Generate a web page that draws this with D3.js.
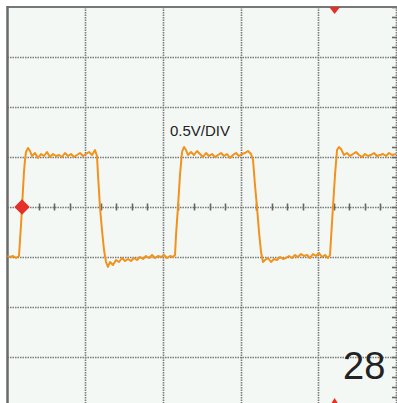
<!DOCTYPE html>
<html>
<head>
<meta charset="utf-8">
<script src="https://cdn.jsdelivr.net/npm/d3@7"></script>
<style>
  body { margin: 0; background: #fff; }
  svg { display: block; }
</style>
</head>
<body>
<div id="scope"></div>
<script>
// Screen: 5 time divisions (10 units each), 8 vertical divisions of 0.5 V
const width = 397, height = 403;
const plot = {left: 7.5, right: 396, top: 7, bottom: 407};

// Trace: time (units, 10 per div) and volts
const time = [0, 0.32, 0.71, 1.09, 1.48, 1.61, 1.74, 1.87, 1.99, 2.12, 2.25, 2.38, 2.64, 2.90, 3.15, 3.54, 3.93, 4.31, 4.70, 5.08,
  5.47, 5.86, 6.24, 6.63, 7.01, 7.40, 7.79, 8.17, 8.56, 8.94, 9.33, 9.72, 10.10, 10.49, 10.88, 11.26, 11.52, 11.65, 11.90, 12.16,
  12.42, 12.68, 12.93, 13.19, 13.58, 13.96, 14.35, 14.74, 15.12, 15.51, 15.89, 16.28, 16.67, 17.05, 17.44, 17.82, 18.21, 18.60, 18.98, 19.37,
  19.76, 20.14, 20.53, 20.91, 21.30, 21.56, 21.69, 21.94, 22.20, 22.46, 22.72, 22.97, 23.23, 23.62, 24.00, 24.39, 24.77, 25.16, 25.55, 25.93,
  26.32, 26.71, 27.09, 27.48, 27.86, 28.25, 28.64, 29.02, 29.41, 29.79, 30.18, 30.57, 30.95, 31.34, 31.60, 31.85, 32.11, 32.37, 32.63, 32.88,
  33.14, 33.53, 33.91, 34.30, 34.68, 35.07, 35.46, 35.84, 36.23, 36.62, 37.00, 37.39, 37.77, 38.16, 38.55, 38.93, 39.32, 39.70, 40.09, 40.48,
  40.86, 41.25, 41.51, 41.64, 41.89, 42.15, 42.41, 42.66, 42.92, 43.31, 43.69, 44.08, 44.47, 44.85, 45.24, 45.62, 46.01, 46.40, 46.78, 47.17,
  47.55, 47.94, 48.33, 48.71, 49.10, 49.49, 50.00];
const volts = [-0.49, -0.50, -0.49, -0.51, -0.49, -0.33, -0.18, 0, 0.17, 0.35, 0.47, 0.55, 0.59, 0.56, 0.51, 0.54, 0.49, 0.53, 0.51, 0.55,
  0.50, 0.53, 0.51, 0.52, 0.50, 0.54, 0.51, 0.53, 0.50, 0.52, 0.54, 0.51, 0.53, 0.55, 0.52, 0.57, 0.51, 0.32, 0, -0.23,
  -0.43, -0.55, -0.60, -0.55, -0.58, -0.53, -0.55, -0.51, -0.54, -0.52, -0.54, -0.51, -0.53, -0.50, -0.52, -0.49, -0.51, -0.48, -0.51, -0.49,
  -0.50, -0.48, -0.51, -0.49, -0.50, -0.48, -0.28, 0, 0.32, 0.55, 0.60, 0.57, 0.52, 0.55, 0.52, 0.56, 0.53, 0.50, 0.54, 0.51,
  0.53, 0.50, 0.52, 0.54, 0.51, 0.53, 0.49, 0.52, 0.54, 0.51, 0.53, 0.54, 0.56, 0.53, 0.47, 0.22, 0, -0.25, -0.45, -0.55,
  -0.53, -0.51, -0.55, -0.52, -0.53, -0.50, -0.52, -0.51, -0.49, -0.51, -0.48, -0.50, -0.47, -0.49, -0.48, -0.51, -0.47, -0.49, -0.46, -0.50,
  -0.48, -0.51, -0.48, -0.31, 0, 0.32, 0.57, 0.60, 0.58, 0.52, 0.54, 0.51, 0.53, 0.55, 0.52, 0.50, 0.53, 0.51, 0.52, 0.54,
  0.51, 0.52, 0.53, 0.51, 0.54, 0.52, 0.53];

// Grid and markers
const majorTimes = [10, 20, 30, 40, 50];
const majorVolts = [-1.5, -1, -0.5, 0, 0.5, 1, 1.5];
const minorTimes = d3.range(0, 50, 2);
const minorVolts = d3.range(-2, 2.01, 0.1);
const triggerTime = 1.87, triggerVolt = 0;
const positionTime = 42.1;
const scaleLabel = "0.5V/DIV";
const channelLabel = "28";

let x = d3.scaleLinear().domain([0, 50]).range([plot.left, plot.right]);
let y = d3.scaleLinear().domain([-2, 2]).range([plot.bottom, plot.top]);
const px = v => Math.round(v) + 0.5;

let svg = d3.select("#scope").append("svg")
  .attr("width", width).attr("height", height);

// screen background
svg.append("rect")
  .attr("x", plot.left).attr("y", plot.top)
  .attr("width", width - plot.left).attr("height", height - plot.top)
  .attr("fill", "#f4f8f5");

let grid = svg.append("g")
  .attr("stroke", "#7a7a7a")
  .attr("stroke-width", 1.6)
  .attr("stroke-dasharray", "1.5,1");

grid.selectAll("line.v").data(majorTimes).enter().append("line")
  .attr("class", "v")
  .attr("x1", d => px(x(d))).attr("x2", d => px(x(d)))
  .attr("y1", plot.top).attr("y2", height);

grid.selectAll("line.h").data(majorVolts).enter().append("line")
  .attr("class", "h")
  .attr("x1", plot.left).attr("x2", width)
  .attr("y1", d => px(y(d))).attr("y2", d => px(y(d)));

// minor ticks on the centre line and on the right edge
let ticks = svg.append("g").attr("stroke", "#666").attr("stroke-width", 1.6);
ticks.selectAll("line.tx").data(minorTimes.filter(d => d % 10 !== 0)).enter().append("line")
  .attr("class", "tx")
  .attr("x1", d => px(x(d))).attr("x2", d => px(x(d)))
  .attr("y1", y(0) - 3.5).attr("y2", y(0) + 3.5);
ticks.selectAll("line.ty").data(minorVolts).enter().append("line")
  .attr("class", "ty")
  .attr("x1", x(50) - 4).attr("x2", width)
  .attr("y1", d => px(y(d))).attr("y2", d => px(y(d)));

// frame on top and left
svg.append("line")
  .attr("x1", plot.left).attr("x2", width)
  .attr("y1", y(2)).attr("y2", y(2))
  .attr("stroke", "#777").attr("stroke-width", 2);
svg.append("line")
  .attr("x1", x(0)).attr("x2", x(0))
  .attr("y1", plot.top - 1).attr("y2", height)
  .attr("stroke", "#6a6a6a").attr("stroke-width", 2.5);

// label
svg.append("text")
  .attr("x", 170).attr("y", 136)
  .attr("font-family", "Liberation Sans, Arial, sans-serif")
  .attr("font-size", 15)
  .attr("fill", "#222")
  .text(scaleLabel);

// trace
let line = d3.line()
  .x((d, i) => x(time[i]))
  .y(d => y(d));
svg.append("path")
  .datum(volts)
  .attr("d", line)
  .attr("fill", "none")
  .attr("stroke", "#f0921c")
  .attr("stroke-width", 2)
  .attr("stroke-linejoin", "round");

// trigger diamond
svg.append("path")
  .attr("d", d3.symbol().type(d3.symbolDiamond2).size(150)())
  .attr("transform", `translate(${x(triggerTime)}, ${y(triggerVolt)})`)
  .attr("fill", "#e5302a");

// position markers top and bottom
const tri = 5.5;
svg.append("path")
  .attr("d", `M${x(positionTime) - tri},${y(2)} L${x(positionTime) + tri},${y(2)} L${x(positionTime)},${y(2) + 7} Z`)
  .attr("fill", "#e5302a");
svg.append("path")
  .attr("d", `M${x(positionTime) - tri},${height + 4} L${x(positionTime) + tri},${height + 4} L${x(positionTime)},${height - 5} Z`)
  .attr("fill", "#e5302a");

// channel number
svg.append("text")
  .attr("x", 343).attr("y", 379)
  .attr("font-family", "Liberation Sans, Arial, sans-serif")
  .attr("font-size", 38)
  .attr("fill", "#222")
  .text(channelLabel);
</script>
</body>
</html>
